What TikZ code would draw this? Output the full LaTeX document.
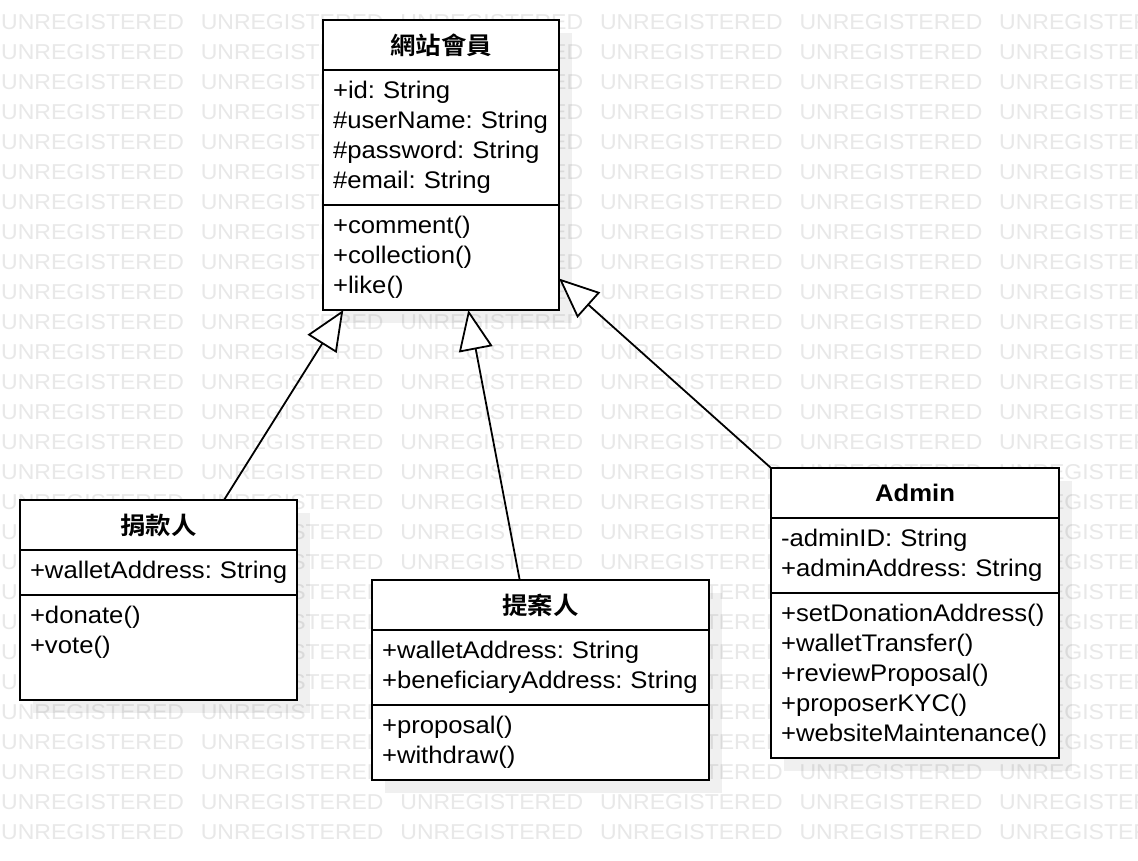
\documentclass[tikz,border=0pt]{standalone}
\usepackage{fontspec}
\setmainfont{Liberation Sans}[FakeStretch=1.07]
\newfontfamily\cjk{Noto Sans CJK TC}[BoldFont={Noto Sans CJK TC Bold},FakeStretch=1.06]
\usetikzlibrary{positioning,arrows.meta}
\frenchspacing

\definecolor{wmgray}{RGB}{232,232,232}

\pgfdeclarelayer{shadow}
\pgfsetlayers{shadow,main}

\tikzset{
  umltitle/.style={draw, fill=white, line width=2pt, outer sep=0pt, minimum height=50pt,
    font=\fontsize{24}{30}\selectfont\bfseries},
  umlpart/.style={draw, fill=white, line width=2pt, outer sep=0pt, align=left,
    inner xsep=10pt, inner ysep=7.5pt, font=\fontsize{24}{30}\selectfont,
    execute at begin node=\strut, execute at end node=\strut},
  boxshadow/.style={fill=black, opacity=0.06},
  wmark/.style={anchor=base west, text=wmgray, inner sep=0pt, font=\fontsize{21.5}{21.5}\selectfont},
  inherit/.style={line width=1.8pt, -{Triangle[open, length=40pt, width=34pt, fill=white]}}
}

\begin{document}
\begin{tikzpicture}[x=1pt, y=-1pt]

\useasboundingbox (0,0) rectangle (1138,860);

\begin{pgfonlayer}{shadow}
\fill[white] (0,0) rectangle (1138,860);
\foreach \i in {0,...,5}
  \foreach \j in {-1,...,27}
    \node[wmark] (wm-\i-\j) at ({1+199.6*\i}, {29.3+30*\j}) {UNREGISTERED};
\end{pgfonlayer}

% 網站會員
\node[umltitle, minimum width=236pt] (memberT) at (441,45) {\cjk 網站會員};
\node[umlpart, text width=216pt, below=0pt of memberT] (memberA)
  {+id: String\\\mbox{\#userName: String}\\\#password: String\\\#email: String};
\node[umlpart, text width=216pt, below=0pt of memberA] (memberM)
  {+comment()\\+collection()\\+like()};

% 捐款人
\node[umltitle, minimum width=277pt] (donorT) at (158.5,525) {\cjk 捐款人};
\node[umlpart, text width=257pt, below=0pt of donorT] (donorA)
  {\mbox{+walletAddress: String}};
\node[umlpart, text width=257pt, below=0pt of donorA] (donorM)
  {+donate()\\+vote()\\\mbox{}};

% 提案人
\node[umltitle, minimum width=337pt] (propT) at (540.5,605) {\cjk 提案人};
\node[umlpart, text width=317pt, below=0pt of propT] (propA)
  {+walletAddress: String\\\mbox{+beneficiaryAddress: String}};
\node[umlpart, text width=317pt, below=0pt of propA] (propM)
  {+proposal()\\+withdraw()};

% Admin
\node[umltitle, minimum width=288pt] (adminT) at (915,493) {Admin};
\node[umlpart, text width=268pt, below=0pt of adminT] (adminA)
  {-adminID: String\\+adminAddress: String};
\node[umlpart, text width=268pt, below=0pt of adminA] (adminM)
  {+setDonationAddress()\\+walletTransfer()\\+reviewProposal()\\+proposerKYC()\\+websiteMaintenance()};

\begin{pgfonlayer}{shadow}
\foreach \c/\m in {memberT/memberM, donorT/donorM, propT/propM, adminT/adminM}
  \fill[boxshadow] ([xshift=13pt,yshift=-13pt]\c.north west) rectangle ([xshift=13pt,yshift=-13pt]\m.south east);
\end{pgfonlayer}

\draw[inherit] ([xshift=65.5pt]donorT.north) -- ([xshift=-97.7pt]memberM.south);
\draw[inherit] ([xshift=-20.8pt]propT.north) -- ([xshift=27.3pt]memberM.south);
\draw[inherit] (adminT.north west) -- ([yshift=-21pt]memberM.east);

\end{tikzpicture}
\end{document}
